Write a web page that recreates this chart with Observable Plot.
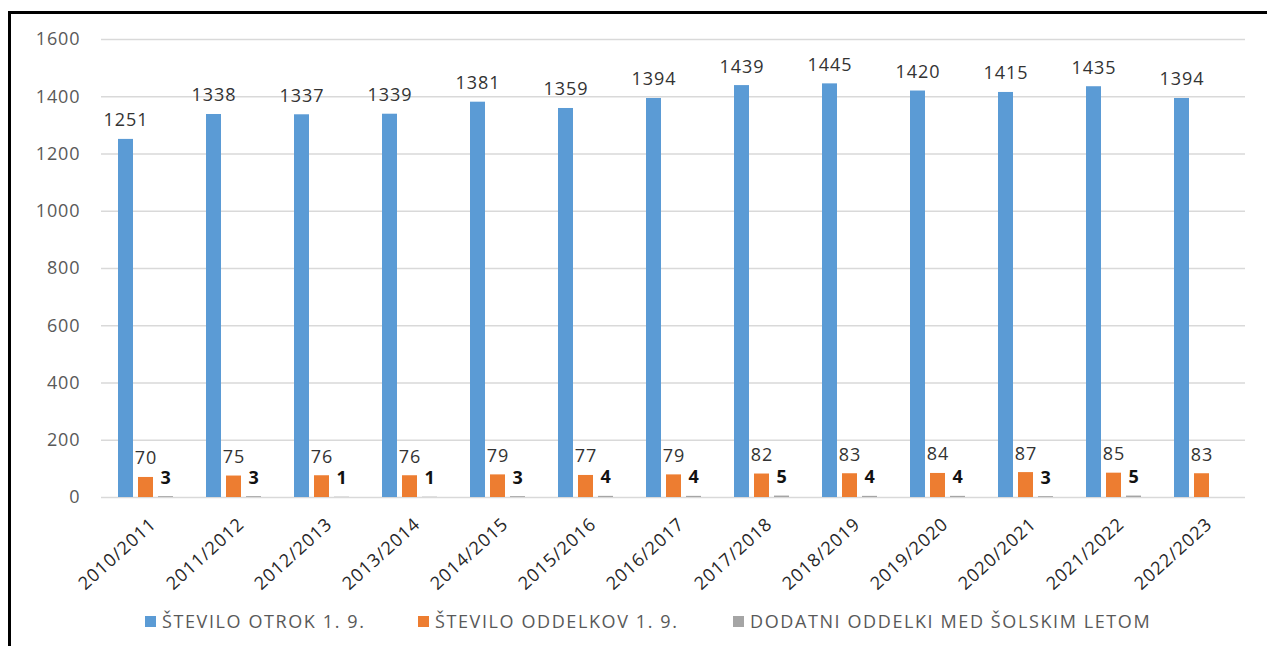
<!DOCTYPE html>
<html>
<head>
<meta charset="utf-8">
<script src="https://cdn.jsdelivr.net/npm/d3@7"></script>
<script src="https://cdn.jsdelivr.net/npm/@observablehq/plot@0.6"></script>
<style>
  html, body { margin: 0; padding: 0; background: #fff; }
  body { width: 1267px; height: 646px; position: relative; overflow: hidden; font-family: "Open Sans", sans-serif; }
  #chart { position: absolute; left: 0; top: 0; }
  #frame { position: absolute; left: 8px; top: 11px; width: 1300px; height: 700px; border-top: 3px solid #000; border-left: 3px solid #000; pointer-events: none; }
  .leg { position: absolute; top: 609px; display: flex; align-items: center; font-size: 18px; letter-spacing: 1.6px; color: #595959; white-space: nowrap; }
  .leg span.sw { display: inline-block; width: 11px; height: 11px; margin-right: 6px; }
</style>
</head>
<body>
<div id="chart"></div>
<div id="frame"></div>
<div id="legend"></div>
<script>
const years = ["2010/2011","2011/2012","2012/2013","2013/2014","2014/2015","2015/2016","2016/2017","2017/2018","2018/2019","2019/2020","2020/2021","2021/2022","2022/2023"];
const otroci = [1251,1338,1337,1339,1381,1359,1394,1439,1445,1420,1415,1435,1394];
const oddelki = [70,75,76,76,79,77,79,82,83,84,87,85,83];
const dodatni = [3,3,1,1,3,4,4,5,4,4,3,5,null];
const series = ["ŠTEVILO OTROK 1. 9.","ŠTEVILO ODDELKOV 1. 9.","DODATNI ODDELKI MED ŠOLSKIM LETOM"];
const colors = ["#5B9BD5","#ED7D31","#A5A5A5"];
const yTicks = [0,200,400,600,800,1000,1200,1400,1600];

const data = years.flatMap((yr, i) => [
  {year: yr, s: series[0], v: otroci[i]},
  {year: yr, s: series[1], v: oddelki[i]},
  {year: yr, s: series[2], v: dodatni[i]}
]).filter(d => d.v != null);

const chart = Plot.plot({
  width: 1267,
  height: 600,
  marginLeft: 98,
  marginRight: 19,
  marginTop: 39,
  marginBottom: 103,
  style: {fontFamily: "Open Sans, sans-serif", fontSize: "18px", letterSpacing: "0.9px", background: "transparent"},
  fx: {domain: years, padding: 0, label: null},
  x: {domain: series, paddingInner: 0.26, paddingOuter: 0.735, axis: null},
  y: {domain: [0, 1600], label: null},
  color: {domain: series, range: colors},
  marks: [
    Plot.gridY(yTicks, {stroke: "#d9d9d9", strokeOpacity: 1, strokeWidth: 1.5}),
    Plot.axisY(yTicks, {tickSize: 0, tickPadding: 21, fill: "#595959", label: null, fontSize: 18, tickFormat: d => String(d)}),
    Plot.axisFx({anchor: "bottom", tickRotate: -42, tickSize: 0, tickPadding: 24, dx: 8, fill: "#262626", label: null, fontSize: 18}),
    Plot.barY(data, {fx: "year", x: "s", y: "v", fill: "s"}),
    Plot.text(data.filter(d => d.s !== series[2]), {fx: "year", x: "s", y: "v", text: d => String(d.v), lineAnchor: "bottom", dy: -13, fill: "#333333", fontSize: 18}),
    Plot.text(data.filter(d => d.s === series[2]), {fx: "year", x: "s", y: "v", text: d => String(d.v), lineAnchor: "bottom", dy: -13, fill: "#111111", fontWeight: "bold", fontSize: 18})
  ]
});
document.getElementById("chart").appendChild(chart);

const legX = [145, 418, 733];
const legend = document.getElementById("legend");
series.forEach((s, i) => {
  const d = document.createElement("div");
  d.className = "leg";
  d.style.left = legX[i] + "px";
  d.innerHTML = `<span class="sw" style="background:${colors[i]}"></span><span>${s}</span>`;
  legend.appendChild(d);
});
</script>
</body>
</html>
